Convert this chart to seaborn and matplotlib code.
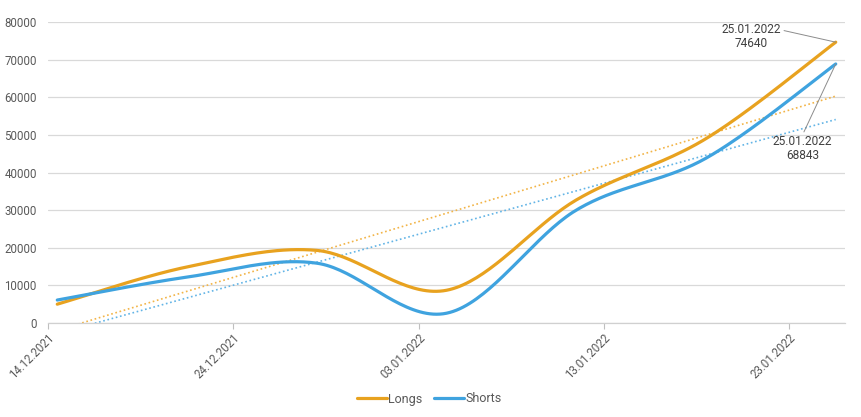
import numpy as np
import pandas as pd
import matplotlib
matplotlib.use('Agg')
import matplotlib.pyplot as plt
import matplotlib.dates as mdates
import seaborn as sns

# weekly values
dates = ['2021-12-14', '2021-12-21', '2021-12-28', '2022-01-04',
         '2022-01-11', '2022-01-18', '2022-01-25']
longs = [5000, 14900, 19300, 8700, 32700, 49000, 74640]
shorts = [6100, 12200, 15900, 2600, 30000, 43800, 68843]
series_names = ['Longs', 'Shorts']
tick_dates = ['2021-12-14', '2021-12-24', '2022-01-03', '2022-01-13', '2022-01-23']

colors = {'Longs': '#E8A21F', 'Shorts': '#3FA3DF'}
trend_colors = {'Longs': '#F2B447', 'Shorts': '#62B4E6'}
text_color = '#595959'


def smooth_curve(x, y, n=40):
    """Excel-like smoothed line (Catmull-Rom through the points)"""
    pts = np.column_stack([x, y])
    P = np.vstack([pts[0], pts, pts[-1]])
    out = []
    t = np.linspace(0, 1, n)[:, None]
    for i in range(1, len(P) - 2):
        p0, p1, p2, p3 = P[i - 1], P[i], P[i + 1], P[i + 2]
        c1 = p1 + (p2 - p0) / 6
        c2 = p2 - (p3 - p1) / 6
        seg = (1 - t) ** 3 * p1 + 3 * (1 - t) ** 2 * t * c1 + 3 * (1 - t) * t ** 2 * c2 + t ** 3 * p2
        out.append(seg)
    return np.vstack(out)


sns.set_theme(style='white')
plt.rcParams['font.family'] = ['Roboto', 'DejaVu Sans']

# points sit in the middle of their day slot, as on a date axis
x = mdates.date2num(pd.to_datetime(dates)) + 0.5

frames = []
for name, vals in zip(series_names, [longs, shorts]):
    curve = smooth_curve(x, np.array(vals, dtype=float))
    frames.append(pd.DataFrame({'x': curve[:, 0], 'y': curve[:, 1], 'series': name}))
df = pd.concat(frames, ignore_index=True)

fig = plt.figure(figsize=(8.62, 4.17), dpi=100)
ax = fig.add_axes([48 / 862, 1 - 323 / 417, (845 - 48) / 862, (323 - 22) / 417])

# linear trend lines
for name, vals in zip(series_names, [longs, shorts]):
    k, b = np.polyfit(x, vals, 1)
    xx = np.linspace(x[0], x[-1], 200)
    ax.plot(xx, k * xx + b, linestyle=(0, (1, 1.6)), color=trend_colors[name],
            linewidth=1.2, zorder=2)

sns.lineplot(data=df, x='x', y='y', hue='series', palette=colors, sort=False,
             estimator=None, linewidth=2.3, ax=ax, zorder=3)

ax.set_xlim(mdates.date2num(pd.Timestamp('2021-12-14')),
            mdates.date2num(pd.Timestamp('2022-01-26')))
ax.set_ylim(0, 80000)
ax.set_yticks(np.arange(0, 80001, 10000))
ax.set_xticks(mdates.date2num(pd.to_datetime(tick_dates)))
ax.xaxis.set_major_formatter(mdates.DateFormatter('%d.%m.%Y'))
ax.set_xlabel('')
ax.set_ylabel('')

ax.grid(axis='y', color='#D9D9D9', linewidth=0.9)
ax.grid(axis='x', visible=False)
for s in ['top', 'right', 'left']:
    ax.spines[s].set_visible(False)
ax.spines['bottom'].set_color('#D0D0D0')
ax.spines['bottom'].set_linewidth(0.9)

ax.tick_params(axis='y', length=0, labelsize=8.3, labelcolor=text_color, pad=8)
ax.tick_params(axis='x', length=4, width=0.8, color='#BFBFBF', bottom=True,
               labelsize=8.3, labelcolor=text_color, pad=2)
for lbl in ax.get_xticklabels():
    lbl.set_rotation(45)
    lbl.set_ha('right')
    lbl.set_rotation_mode('anchor')

# data labels for the last points
ax.annotate(f"25.01.2022\n{longs[-1]}", xy=(x[-1], longs[-1]), xytext=(-61, 4),
            textcoords='offset points', ha='center', va='center', fontsize=8.6,
            color='#404040', linespacing=1.1,
            arrowprops=dict(arrowstyle='-', color='#8C8C8C', linewidth=0.7,
                            shrinkA=0, shrinkB=0,
                            relpos=(1.0, 0.75)))
ax.annotate(f"25.01.2022\n{shorts[-1]}", xy=(x[-1], shorts[-1]), xytext=(-24, -61),
            textcoords='offset points', ha='center', va='center', fontsize=8.6,
            color='#404040', linespacing=1.1,
            arrowprops=dict(arrowstyle='-', color='#8C8C8C', linewidth=0.7,
                            shrinkA=0, shrinkB=0,
                            relpos=(0.5, 1.0)))

ax.get_legend().remove()
handles = [plt.Line2D([], [], color=colors[n], linewidth=2.3) for n in series_names]
fig.legend(handles, series_names, loc='center', bbox_to_anchor=(0.498, 1 - 399 / 417),
           ncol=2, frameon=False, fontsize=9, handlelength=2.4, handletextpad=0.1,
           columnspacing=0.9, labelcolor=text_color)

fig.savefig('out.png', dpi=100)
